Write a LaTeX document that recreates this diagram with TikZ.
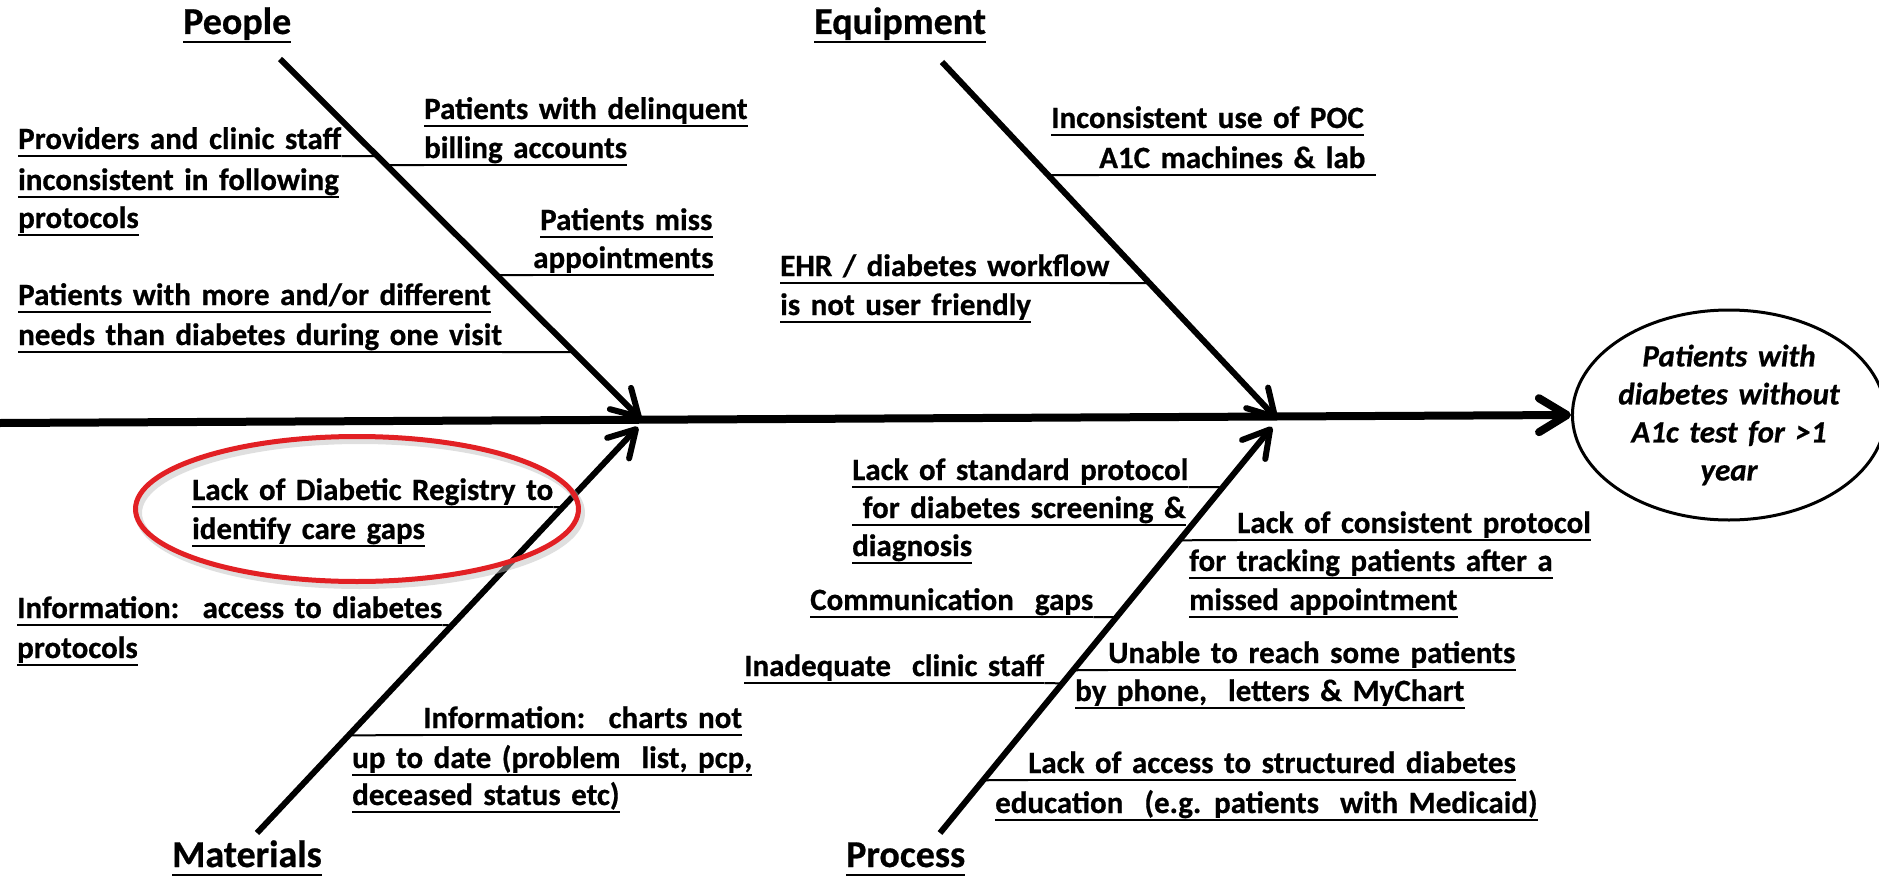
\documentclass[tikz,border=0pt]{standalone}
\usepackage{fontspec}
\setmainfont{Carlito}[WordSpace=1.5, BoldFeatures={FakeBold=0.6}, BoldItalicFeatures={FakeBold=0.6}]
\usetikzlibrary{arrows.meta,shapes.geometric,positioning,calc}
\definecolor{ringred}{RGB}{226,32,36}

\tikzset{
  uline/.style={line width=2pt},
  cause/.style={anchor=base west, inner sep=0pt, text depth=7pt,
    font=\bfseries\fontsize{31}{38}\selectfont,
    append after command={(\tikzlastnode.south west) edge[uline] (\tikzlastnode.south east)}},
  head/.style={cause, text depth=8pt, font=\bfseries\fontsize{38}{46}\selectfont},
  bone/.style={line width=6pt, -{Straight Barb[length=26pt,width=30pt,round]}},
  spine/.style={line width=8pt, -{Straight Barb[length=28pt,width=34pt,round]}},
  branch/.style={line width=2pt},
  effect/.style={ellipse, draw, line width=3pt, minimum width=295pt, minimum height=210pt,
    inner sep=0pt, align=center, font=\bfseries\itshape\fontsize{31}{38}\selectfont},
  regring/.style={ellipse, draw=ringred, line width=5pt, minimum width=443pt, minimum height=145pt}
}

\begin{document}
\begin{tikzpicture}[x=1pt, y=-1pt]
  \useasboundingbox (0,0) rectangle (1879,880);

  % bone ends
  \coordinate (tail) at (0,423);
  \coordinate (peoA) at (280,59);   \coordinate (peoB) at (641,419);
  \coordinate (equA) at (942,62);   \coordinate (equB) at (1277,419);
  \coordinate (matA) at (257,833);  \coordinate (matB) at (638,427);
  \coordinate (proA) at (940,833);  \coordinate (proB) at (1272,427);

  % effect
  \node[effect] (eff) at (1729,415) {Patients with\\diabetes without\\A1c test for >1\\year};
  \draw[spine] (tail) -- (eff.west);

  % bones
  \draw[bone] (peoA) -- (peoB);
  \draw[bone] (equA) -- (equB);
  \draw[bone] (matA) -- (matB);
  \draw[bone] (proA) -- (proB);

  % headings
  \node[head] (people) at (183,34) {People};
  \node[head] (equip) at (814,34) {Equipment};
  \node[head] (mater) at (172,867) {Materials};
  \node[head] (proc) at (846,867) {Process};

  % People
  \node[cause] (P1a) at (424,119) {Patients with delinquent};
  \node[cause] (P1b) at (424,158) {billing accounts};
  \node[cause] (P2a) at (18,149) {Providers and clinic staff};
  \node[cause] (P2b) at (18,190) {inconsistent in following};
  \node[cause] (P2c) at (18,228) {protocols};
  \node[cause] (P3a) at (540,230) {Patients miss};
  \node[cause] (P3b) at (533,268) {appointments};
  \node[cause] (P4a) at (18,305) {Patients with more and/or different};
  \node[cause] (P4b) at (18,345) {needs than diabetes during one visit};

  % Equipment
  \node[cause] (E1a) at (1051,128) {Inconsistent use of POC};
  \node[cause] (E1b) at (1099,168) {A1C machines \& lab\ \ };
  \node[cause] (E2a) at (780,276) {EHR / diabetes workflow};
  \node[cause] (E2b) at (780,315) {is not user friendly};

  % Materials
  \node[regring, draw=black!25, line width=7pt, opacity=.5] at (360,513) {};
  \node[regring] (ring) at (357,509) {};
  \node[cause] (M1a) at (192,500) {Lack of Diabetic Registry to};
  \node[cause] (M1b) at (192,539) {identify care gaps};
  \node[cause] (M2a) at (17,618) {Information:~ access to diabetes};
  \node[cause] (M2b) at (17,658) {protocols};
  \node[cause] (M3a) at (423,728) {Information:~ charts not};
  \node[cause] (M3b) at (352,768) {up to date (problem~ list, pcp,};
  \node[cause] (M3c) at (352,805) {deceased status etc)};

  % Process
  \node[cause] (R1a) at (852,480) {Lack of standard protocol};
  \node[cause] (R1b) at (852,518) {\ for diabetes screening \&};
  \node[cause] (R1c) at (852,556) {diagnosis};
  \node[cause] (R2a) at (1237,533) {Lack of consistent protocol};
  \node[cause] (R2b) at (1189,571) {for tracking patients after a};
  \node[cause] (R2c) at (1189,610) {missed appointment};
  \node[cause] (R3a) at (810,610) {Communication~ gaps};
  \node[cause] (R4a) at (744,676) {Inadequate~ clinic staff};
  \node[cause] (R5a) at (1108,663) {Unable to reach some patients};
  \node[cause] (R5b) at (1075,701) {by phone,~ letters \& MyChart};
  \node[cause] (R6a) at (1028,773) {Lack of access to structured diabetes};
  \node[cause] (R6b) at (995,813) {education~ (e.g. patients~ with Medicaid)};

  % branches to the bones
  \foreach \n/\a/\b in {P2a/south east/peo, P1b/south west/peo, P3b/south west/peo, P4b/south east/peo,
      E1b/south west/equ, E2a/south east/equ,
      M1a/south east/mat, M2a/south east/mat, M3a/south west/mat,
      R1a/south east/pro, R2a/south west/pro, R3a/south east/pro,
      R4a/south east/pro, R5a/south west/pro, R6a/south west/pro}
    \draw[branch] (\n.\a) -- (intersection of \b A--\b B and \n.south west--\n.south east);
\end{tikzpicture}
\end{document}
